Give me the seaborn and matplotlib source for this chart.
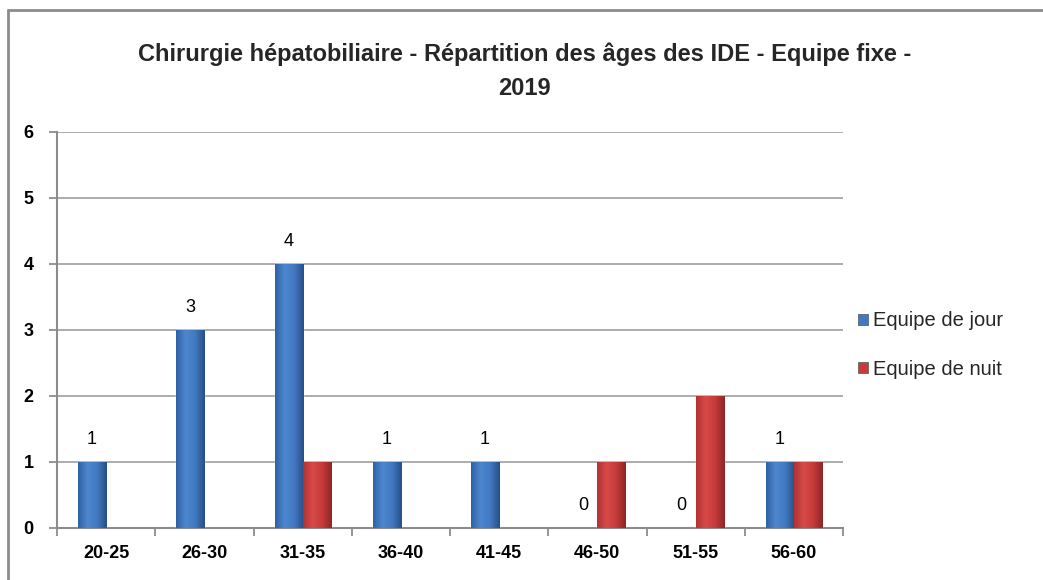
import numpy as np
import pandas as pd
import seaborn as sns
import matplotlib.pyplot as plt
from matplotlib.lines import Line2D
from matplotlib.colors import LinearSegmentedColormap

categories = ["20-25", "26-30", "31-35", "36-40", "41-45", "46-50", "51-55", "56-60"]
jour = [1, 3, 4, 1, 1, 0, 0, 1]
nuit = [0, 0, 1, 0, 0, 1, 2, 1]
series = ["Equipe de jour", "Equipe de nuit"]

df = pd.DataFrame({
    "age": categories * 2,
    "count": jour + nuit,
    "equipe": [series[0]] * len(categories) + [series[1]] * len(categories),
})

sns.set_theme(style="white")
plt.rcParams["font.family"] = ["Liberation Sans", "DejaVu Sans"]

fig = plt.figure(figsize=(10.43, 5.8), dpi=100)
ax = fig.add_axes([57 / 1043, 52 / 580, 786 / 1043, 396 / 580])

palette = {series[0]: "#4179c0", series[1]: "#c93b3b"}
sns.barplot(data=df, x="age", y="count", hue="equipe", palette=palette,
            width=0.57, dodge=True, ax=ax, saturation=1, legend=False)

# gradient fill on each bar
grads = {
    series[0]: LinearSegmentedColormap.from_list("b", ["#2f62a6", "#4d87cf", "#4279c0", "#274f88"]),
    series[1]: LinearSegmentedColormap.from_list("r", ["#b23232", "#d84a4a", "#c63a3a", "#8e2626"]),
}
grad = np.linspace(0, 1, 64).reshape(1, -1)
for cont, name in zip(ax.containers, series):
    for p in cont.patches:
        h = p.get_height()
        if h <= 0:
            continue
        x0 = p.get_x()
        w = p.get_width()
        im = ax.imshow(grad, cmap=grads[name], aspect="auto",
                       extent=[x0, x0 + w, 0, h], zorder=3)
        im.set_clip_path(p)
        p.set_zorder(3)

ax.set_xlim(-0.5, len(categories) - 0.5)
ax.set_ylim(0, 6)
ax.set_yticks(range(0, 7))
ax.yaxis.grid(True, color="#a6a6a6", linewidth=1.3)
ax.set_axisbelow(True)
ax.set_xlabel("")
ax.set_ylabel("")

for s in ["top", "right"]:
    ax.spines[s].set_visible(False)
for s in ["left", "bottom"]:
    ax.spines[s].set_color("#8c8c8c")
    ax.spines[s].set_linewidth(1.5)

ax.set_xticks(range(len(categories)))
ax.set_xticklabels(categories, fontsize=13, fontweight="bold", color="black")
ax.set_xticks(np.arange(-0.5, len(categories)), minor=True)
ax.tick_params(axis="x", which="major", length=0, pad=12)
ax.tick_params(axis="x", which="minor", length=6, width=1.3, color="#8c8c8c", direction="out")
ax.tick_params(axis="y", length=6, width=1.3, color="#8c8c8c", direction="out", pad=11,
               labelsize=13, labelcolor="black")
for t in ax.get_yticklabels():
    t.set_fontweight("bold")
ax.tick_params(bottom=True, left=True, which="both")

ax.bar_label(ax.containers[0], labels=[str(v) for v in jour], padding=10, fontsize=13, color="black")

fig.suptitle("Chirurgie hépatobiliaire - Répartition des âges des IDE - Equipe fixe -\n2019",
             x=0.503, y=0.926, fontsize=17, fontweight="bold", linespacing=1.6)

handles = [plt.Rectangle((0, 0), 1, 1, facecolor=palette[s], edgecolor="#555555", linewidth=0.5)
           for s in series]
fig.legend(handles, series, loc="center left", bbox_to_anchor=(840 / 1043, 1 - 345 / 580),
           frameon=False, fontsize=14.5, handlelength=0.5, handleheight=0.5,
           handletextpad=0.25, labelspacing=1.45)

# outer chart border (left and top only, rest is cropped)
fig.add_artist(Line2D([8 / 1043, 8 / 1043], [0, 1 - 10 / 580], color="#8c8c8c", linewidth=2,
                      transform=fig.transFigure))
fig.add_artist(Line2D([8 / 1043, 1], [1 - 10 / 580, 1 - 10 / 580], color="#8c8c8c", linewidth=2,
                      transform=fig.transFigure))

fig.savefig("out.png", dpi=100, facecolor="white")
